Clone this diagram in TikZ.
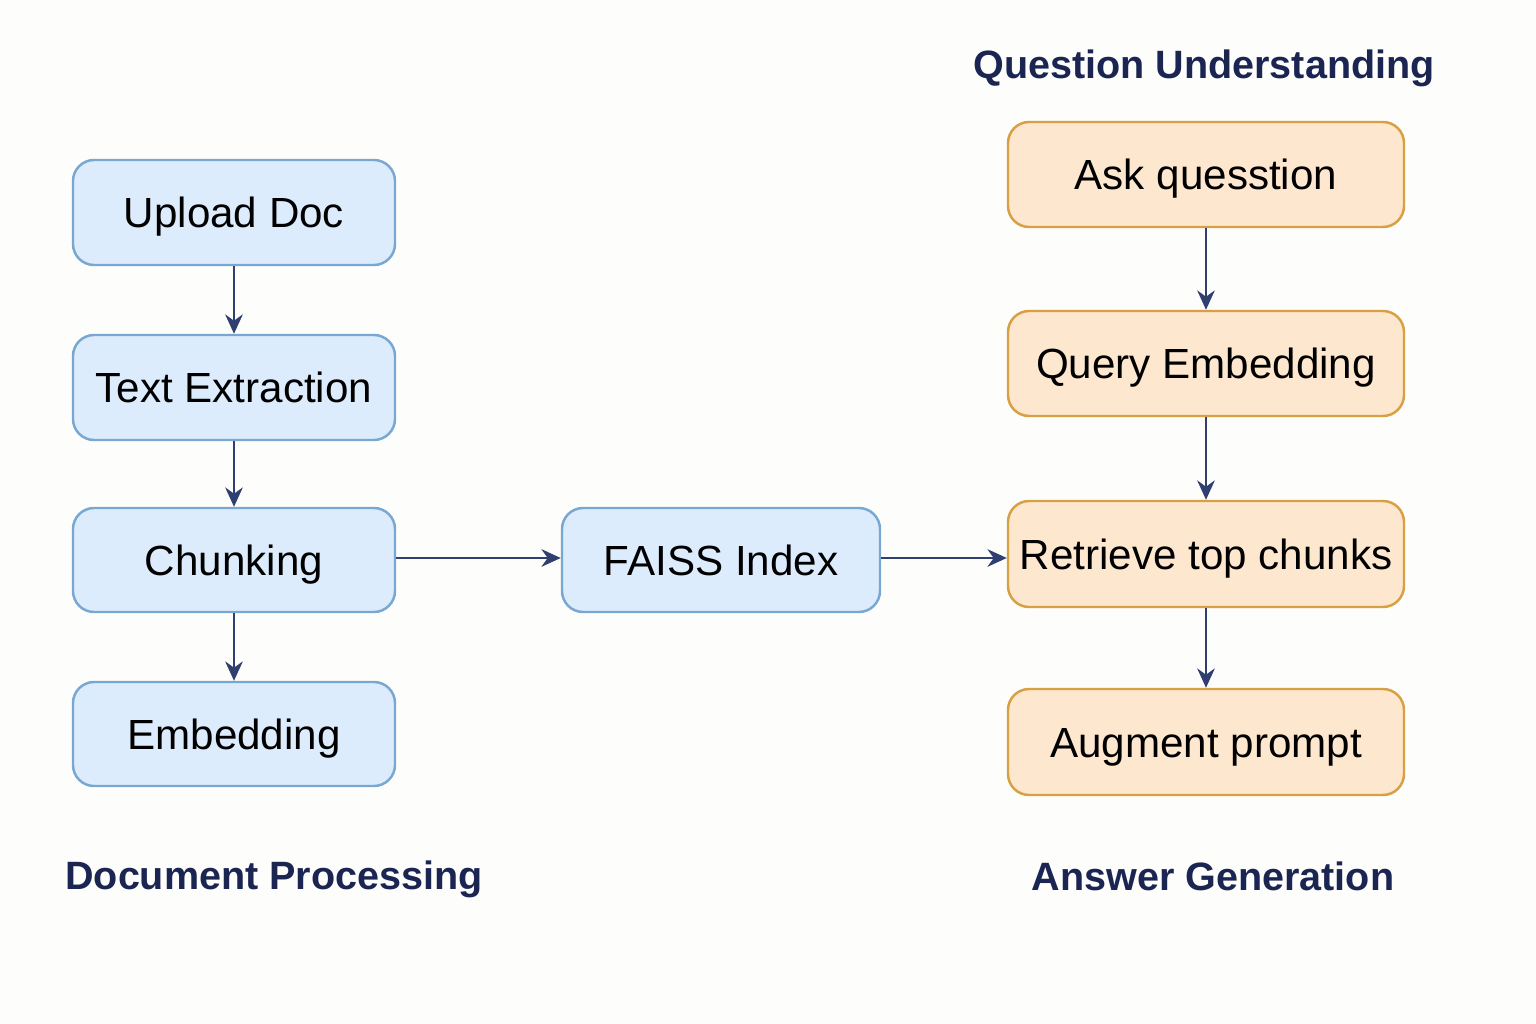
\documentclass[tikz,border=0pt]{standalone}
\usepackage{fontspec}
\setmainfont{Liberation Sans}
\usetikzlibrary{arrows.meta}
\definecolor{bgc}{HTML}{FDFDFB}
\definecolor{bfill}{HTML}{DDECFC}
\definecolor{bdraw}{HTML}{78A8D2}
\definecolor{ofill}{HTML}{FDE7CE}
\definecolor{odraw}{HTML}{D9A043}
\definecolor{navy}{HTML}{1B2552}
\definecolor{arr}{HTML}{2F3F6F}
\begin{document}
\begin{tikzpicture}[x=0.02cm,y=-0.02cm,
  boxbase/.style={rounded corners=12pt, line width=1.4pt, inner sep=0pt, font=\fontsize{24}{29}\selectfont, text=black, text height=17.2pt, text depth=0pt},
  bluebox/.style={boxbase, fill=bfill, draw=bdraw},
  orangebox/.style={boxbase, fill=ofill, draw=odraw},
  title/.style={font=\fontsize{22.5}{27}\selectfont\bfseries, text=navy, inner sep=0pt, text height=16.1pt, text depth=0pt},
  flow/.style={draw=arr, line width=1.4pt, -{Stealth[length=11pt,width=10pt]}}]
\fill[bgc] (0,0) rectangle (1536,1024);
\useasboundingbox (0,0) rectangle (1536,1024);
% left column
\node[bluebox, minimum width=322*0.02cm, minimum height=105*0.02cm] (up) at (234,212.5) {Upload Doc};
\node[bluebox, minimum width=322*0.02cm, minimum height=105*0.02cm] (te) at (234,387.5) {Text Extraction};
\node[bluebox, minimum width=322*0.02cm, minimum height=104*0.02cm] (ch) at (234,560) {Chunking};
\node[bluebox, minimum width=322*0.02cm, minimum height=104*0.02cm] (em) at (234,734) {Embedding};
\node[bluebox, minimum width=318*0.02cm, minimum height=104*0.02cm] (fa) at (721,560) {FAISS Index};
% right column
\node[orangebox, minimum width=396*0.02cm, minimum height=105*0.02cm] (ask) at (1206,174.5) {Ask quesstion};
\node[orangebox, minimum width=396*0.02cm, minimum height=105*0.02cm] (qe) at (1206,363.5) {Query Embedding};
\node[orangebox, minimum width=396*0.02cm, minimum height=106*0.02cm] (rt) at (1206,554) {Retrieve top chunks};
\node[orangebox, minimum width=396*0.02cm, minimum height=106*0.02cm] (ap) at (1206,742) {Augment prompt};
% titles
\node[title] (t1) at (1204,64) {Question Understanding};
\node[title] (t2) at (274,875) {Document Processing};
\node[title] (t3) at (1213,876) {Answer Generation};
% arrows
\draw[flow] (up) -- (te);
\draw[flow] (te) -- (ch);
\draw[flow] (ch) -- (em);
\draw[flow] (ch.east |- 0,558) -- (fa.west |- 0,558);
\draw[flow] (fa.east |- 0,558) -- (rt.west |- 0,558);
\draw[flow] (ask) -- (qe);
\draw[flow] (qe) -- (rt);
\draw[flow] (rt) -- (ap);
\end{tikzpicture}
\end{document}
